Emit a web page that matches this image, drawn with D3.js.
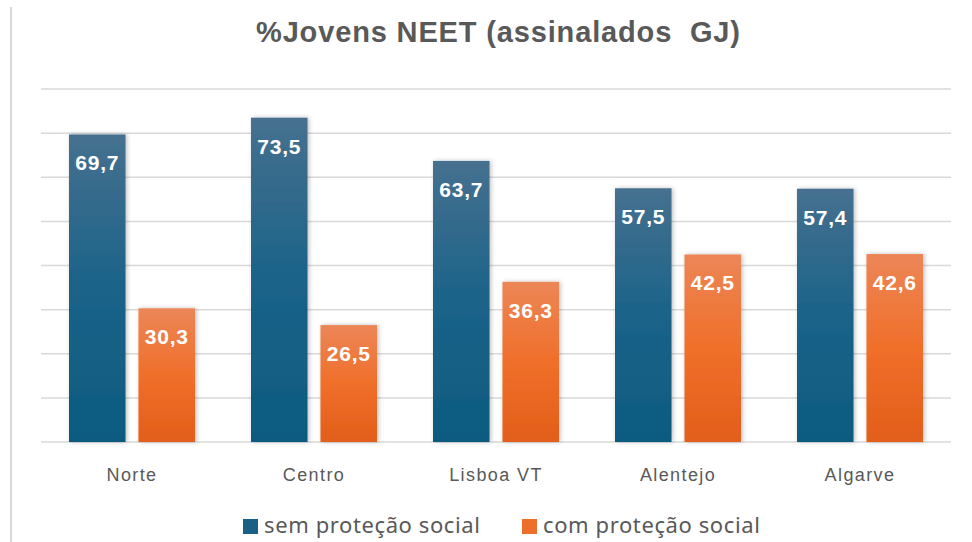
<!DOCTYPE html>
<html>
<head>
<meta charset="utf-8">
<script src="https://cdn.jsdelivr.net/npm/d3@7"></script>
<style>
  html, body { margin: 0; padding: 0; background: #fff; }
  svg { display: block; }
</style>
</head>
<body>
<div id="chart"></div>
<script>
// data
const regioes = ["Norte", "Centro", "Lisboa VT", "Alentejo", "Algarve"];
const series = ["sem proteção social", "com proteção social"];
const semProtecao = [69.7, 73.5, 63.7, 57.5, 57.4];
const comProtecao = [30.3, 26.5, 36.3, 42.5, 42.6];
const yTicks = [0, 10, 20, 30, 40, 50, 60, 70, 80];

const width = 972, height = 542;
const fmt = v => d3.format(".1f")(v).replace(".", ",");

const svg = d3.select("#chart").append("svg")
  .attr("width", width).attr("height", height);

const defs = svg.append("defs");
const grads = [
  { id: "gBlue", stops: ["#46708f", "#1b6389", "#0d5a80"] },
  { id: "gOrange", stops: ["#ec8657", "#f06f2a", "#e25e1a"] }
];
grads.forEach(g => {
  const lg = defs.append("linearGradient").attr("id", g.id)
    .attr("x1", 0).attr("y1", 0).attr("x2", 0).attr("y2", 1);
  g.stops.forEach((c, i) => lg.append("stop")
    .attr("offset", i / (g.stops.length - 1)).attr("stop-color", c));
});
defs.append("filter").attr("id", "shadow")
  .attr("x", "-20%").attr("y", "-10%").attr("width", "140%").attr("height", "120%")
  .append("feDropShadow")
  .attr("dx", 1.5).attr("dy", 0).attr("stdDeviation", 2)
  .attr("flood-color", "#000").attr("flood-opacity", 0.25);

// left border line of the chart area
svg.append("line")
  .attr("x1", 11).attr("x2", 11).attr("y1", 7).attr("y2", height)
  .attr("stroke", "#d9d9d9").attr("stroke-width", 2);

const x0 = d3.scaleBand().domain(regioes).range([41, 951]);
const x1 = d3.scaleBand().domain(series).range([28, 154]).paddingInner(0.186);
const y = d3.scaleLinear().domain([0, 80]).range([442, 89]);
const color = d3.scaleOrdinal().domain(series).range(["url(#gBlue)", "url(#gOrange)"]);
const legendColor = d3.scaleOrdinal().domain(series).range(["#1a5f86", "#ee6e2b"]);

// gridlines
svg.append("g").selectAll("line").data(yTicks).join("line")
  .attr("x1", 41).attr("x2", 951)
  .attr("y1", d => y(d)).attr("y2", d => y(d))
  .attr("stroke", "#d9d9d9").attr("stroke-width", 1.5);

const rows = regioes.map((r, i) => ({
  regiao: r,
  values: [
    { serie: series[0], value: semProtecao[i] },
    { serie: series[1], value: comProtecao[i] }
  ]
}));

const groups = svg.append("g").selectAll("g").data(rows).join("g")
  .attr("transform", d => `translate(${x0(d.regiao)},0)`);

groups.selectAll("rect").data(d => d.values).join("rect")
  .attr("x", d => x1(d.serie))
  .attr("width", x1.bandwidth())
  .attr("y", d => y(d.value))
  .attr("height", d => y(0) - y(d.value))
  .attr("fill", d => color(d.serie))
  .attr("filter", "url(#shadow)");

groups.selectAll("text").data(d => d.values).join("text")
  .attr("x", d => x1(d.serie) + x1.bandwidth() / 2)
  .attr("y", d => y(d.value) + 36)
  .attr("text-anchor", "middle")
  .attr("fill", "#fff")
  .style("font", "bold 21px 'Liberation Sans', Arial, sans-serif")
  .style("letter-spacing", "0.8px")
  .text(d => fmt(d.value));

// category axis labels
svg.append("g").selectAll("text").data(regioes).join("text")
  .attr("x", d => x0(d) + x0.bandwidth() / 2)
  .attr("y", 481)
  .attr("text-anchor", "middle")
  .attr("fill", "#595959")
  .style("font", "18px 'Liberation Sans', Arial, sans-serif")
  .style("letter-spacing", "1.4px")
  .text(d => d);

// title
svg.append("text")
  .attr("x", 256).attr("y", 42)
  .attr("fill", "#595959")
  .attr("textLength", 484)
  .attr("lengthAdjust", "spacing")
  .style("white-space", "pre")
  .style("font", "bold 29px 'Liberation Sans', Arial, sans-serif")
  .text("%Jovens NEET (assinalados  GJ)");

// legend
const legendX = [243, 522];
const legend = svg.append("g").selectAll("g").data(series).join("g")
  .attr("transform", (d, i) => `translate(${legendX[i]},0)`);
legend.append("rect")
  .attr("x", 0).attr("y", 519).attr("width", 15).attr("height", 15)
  .attr("fill", d => legendColor(d));
legend.append("text")
  .attr("x", 21).attr("y", 533)
  .attr("fill", "#595959")
  .style("font", "22px 'Noto Sans', sans-serif")
  .style("letter-spacing", "0.6px")
  .text(d => d);
</script>
</body>
</html>
